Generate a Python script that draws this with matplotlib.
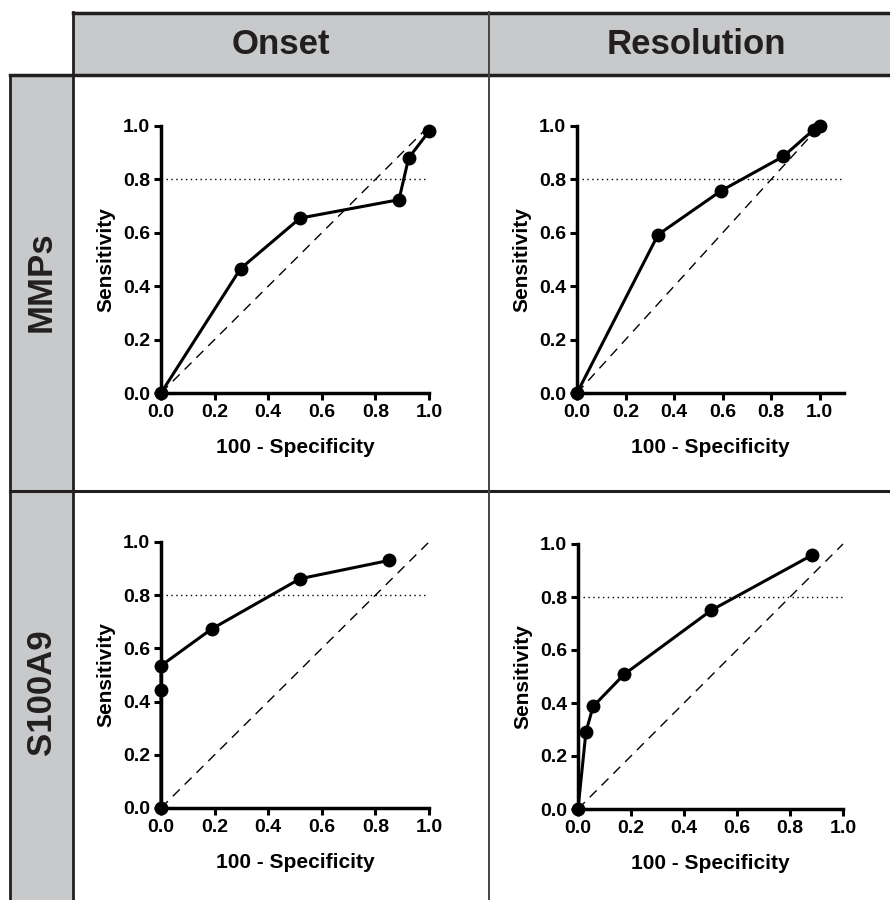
import matplotlib.pyplot as plt
from matplotlib.patches import Rectangle

plt.rcParams['font.family'] = ['Liberation Sans', 'DejaVu Sans']
plt.rcParams['font.weight'] = 'bold'

col_titles = ['Onset', 'Resolution']
row_titles = ['MMPs', 'S100A9']

# ROC points (1 - specificity, sensitivity)
mmps_onset_x = [0.0, 0.297, 0.519, 0.888, 0.924, 1.0]
mmps_onset_y = [0.0, 0.466, 0.655, 0.724, 0.880, 0.980]

mmps_res_x = [0.0, 0.334, 0.593, 0.850, 0.975, 1.0]
mmps_res_y = [0.0, 0.593, 0.757, 0.886, 0.986, 1.0]

s100_onset_x = [0.0, 0.0, 0.0, 0.189, 0.519, 0.852]
s100_onset_y = [0.0, 0.445, 0.535, 0.673, 0.862, 0.931]

s100_res_x = [0.0, 0.030, 0.057, 0.174, 0.503, 0.883]
s100_res_y = [0.0, 0.291, 0.387, 0.508, 0.750, 0.958]

cutoff = 0.8
ticks = [0.0, 0.2, 0.4, 0.6, 0.8, 1.0]

W, H = 890, 900
fig = plt.figure(figsize=(W / 100, H / 100), dpi=100)

# background frame drawn in pixel units
bg = fig.add_axes([0, 0, 1, 1])
bg.set_xlim(0, W)
bg.set_ylim(H, 0)
bg.axis('off')
grey = '#c8c9cb'
dark = '#231f20'
bg.add_patch(Rectangle((73, 12), W - 73 + 5, 63, facecolor=grey, edgecolor='none'))
bg.add_patch(Rectangle((10, 75), 63, H - 75 + 5, facecolor=grey, edgecolor='none'))
bg.plot([73, W], [13, 13], color=dark, lw=2.5)
bg.plot([10, W], [75, 75], color=dark, lw=2.5)
bg.plot([73, 73], [12, H], color=dark, lw=2)
bg.plot([10, 10], [75, H], color=dark, lw=2)
bg.plot([10, W], [491, 491], color=dark, lw=2.2)
bg.plot([489, 489], [12, H], color='#444444', lw=1.4)

bg.text(281, 45, col_titles[0], ha='center', va='center', fontsize=25, color=dark, fontweight='bold')
bg.text(696, 45, col_titles[1], ha='center', va='center', fontsize=25, color=dark, fontweight='bold')
bg.text(41, 282, row_titles[0], ha='center', va='center', fontsize=25, color=dark, fontweight='bold', rotation=90)
bg.text(41, 692, row_titles[1], ha='center', va='center', fontsize=25, color=dark, fontweight='bold', rotation=90)

# axes boxes: (left px, top px, right px, bottom px, xmax)
panels = [
    (161, 126, 429, 393, 1.0, mmps_onset_x, mmps_onset_y),
    (577, 126, 844, 393, 1.1, mmps_res_x, mmps_res_y),
    (161, 542, 429, 808, 1.0, s100_onset_x, s100_onset_y),
    (578, 544, 843, 809, 1.0, s100_res_x, s100_res_y),
]

for l, t, r, b, xmax, xs, ys in panels:
    ax = fig.add_axes([l / W, 1 - b / H, (r - l) / W, (b - t) / H])
    ax.set_xlim(0, xmax)
    ax.set_ylim(0, 1)
    ax.plot([0, 1], [0, 1], color='black', lw=1, dashes=(7, 5), clip_on=False)
    ax.axhline(cutoff, color='black', lw=1, dashes=(1, 2.5), xmin=0.02)
    ax.plot(xs, ys, color='black', lw=2.2, marker='o', markersize=9, clip_on=False, zorder=5)
    for s in ['top', 'right']:
        ax.spines[s].set_visible(False)
    for s in ['left', 'bottom']:
        ax.spines[s].set_linewidth(2.5)
    ax.set_xticks(ticks)
    ax.set_yticks(ticks)
    ax.set_xticklabels(['%.1f' % v for v in ticks])
    ax.set_yticklabels(['%.1f' % v for v in ticks])
    ax.tick_params(direction='out', length=5, width=2.2, labelsize=14, pad=3)
    for lab in ax.get_xticklabels() + ax.get_yticklabels():
        lab.set_fontweight('bold')
    ax.set_xlabel('100 - Specificity', fontsize=15, fontweight='bold', labelpad=12)
    ax.set_ylabel('Sensitivity', fontsize=15, fontweight='bold', labelpad=5)
    ax.patch.set_alpha(0)

fig.savefig('out.png', dpi=100)
